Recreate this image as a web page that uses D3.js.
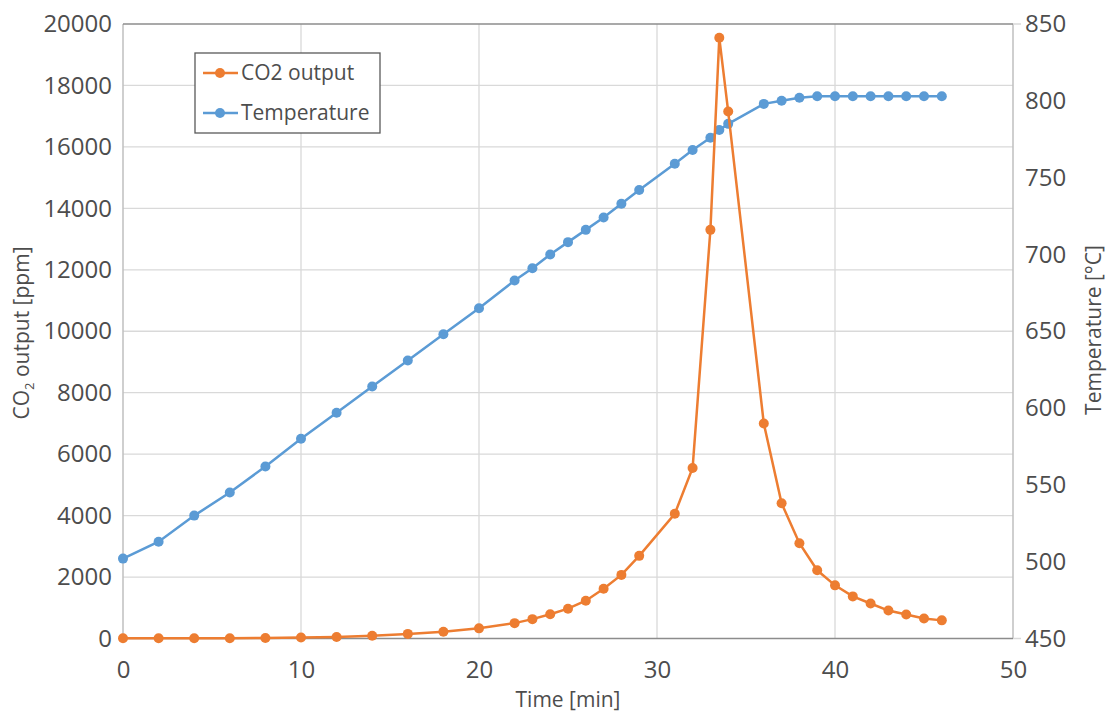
<!DOCTYPE html>
<html><head><meta charset="utf-8">
<script src="https://cdn.jsdelivr.net/npm/d3@7"></script>
<style>body{margin:0;background:#fff}svg text{font-family:"Open Sans",sans-serif;fill:#4d4d4d}</style>
</head><body>
<svg id="c" width="1107" height="714"></svg>
<script>
const co2Time = [0,2,4,6,8,10,12,14,16,18,20,22,23,24,25,26,27,28,29,31,32,33,33.5,34,36,37,38,39,40,41,42,43,44,45,46];
const co2Values = [10,10,10,10,15,30,50,90,150,220,330,500,630,790,970,1230,1620,2070,2690,4060,5550,13300,19550,17150,7000,4400,3100,2220,1730,1370,1140,910,780,650,590];
const tempTime = [0,2,4,6,8,10,12,14,16,18,20,22,23,24,25,26,27,28,29,31,32,33,33.5,34,36,37,38,39,40,41,42,43,44,45,46];
const tempValues = [502,513,530,545,562,580,597,614,631,648,665,683,691,700,708,716,724,733,742,759,768,776,781,785,798,800,802,803,803,803,803,803,803,803,803];
const xTicks = [0,10,20,30,40,50];
const yLeftTicks = [0,2000,4000,6000,8000,10000,12000,14000,16000,18000,20000];
const yRightTicks = [450,500,550,600,650,700,750,800,850];
const seriesNames = ["CO2 output","Temperature"];
const colors = ["#ED7D31","#5B9BD5"];

const svg = d3.select("#c");
const L=123,R=1013,T=24,B=638.5;
const x = d3.scaleLinear().domain([0,50]).range([L,R]);
const yL = d3.scaleLinear().domain([0,20000]).range([B,T]);
const yR = d3.scaleLinear().domain([450,850]).range([B,T]);

// gridlines
svg.append("g").selectAll("line").data(yLeftTicks.filter(d=>d>0&&d<20000)).join("line")
 .attr("x1",L).attr("x2",R).attr("y1",d=>yL(d)).attr("y2",d=>yL(d)).attr("stroke","#d9d9d9").attr("stroke-width",1.3);
svg.append("g").selectAll("line").data(xTicks.filter(d=>d>0&&d<50)).join("line")
 .attr("y1",T).attr("y2",B).attr("x1",d=>x(d)).attr("x2",d=>x(d)).attr("stroke","#d9d9d9").attr("stroke-width",1.3);

// axes lines
svg.append("line").attr("x1",L).attr("x2",L).attr("y1",T).attr("y2",B).attr("stroke","#bfbfbf").attr("stroke-width",1.5);
svg.append("line").attr("x1",R).attr("x2",R).attr("y1",T).attr("y2",B).attr("stroke","#bfbfbf").attr("stroke-width",1.5);
svg.append("line").attr("x1",L).attr("x2",R).attr("y1",T).attr("y2",T).attr("stroke","#8c8c8c").attr("stroke-width",1.5);
svg.append("line").attr("x1",R).attr("x2",R+8).attr("y1",T).attr("y2",T).attr("stroke","#d9d9d9").attr("stroke-width",1.5);
svg.append("line").attr("x1",L).attr("x2",R).attr("y1",B).attr("y2",B).attr("stroke","#8c8c8c").attr("stroke-width",1.5);
svg.append("line").attr("x1",R).attr("x2",R+8).attr("y1",B).attr("y2",B).attr("stroke","#d9d9d9").attr("stroke-width",1.5);

// tick labels via axes
const fs=24;
const ax = svg.append("g").attr("transform",`translate(0,${B})`).call(d3.axisBottom(x).tickValues(xTicks).tickSize(0).tickPadding(22));
const ayl = svg.append("g").attr("transform",`translate(${L},0)`).call(d3.axisLeft(yL).tickValues(yLeftTicks).tickFormat(d3.format("d")).tickSize(0).tickPadding(11));
const ayr = svg.append("g").attr("transform",`translate(${R},0)`).call(d3.axisRight(yR).tickValues(yRightTicks).tickSize(0).tickPadding(12));
[ax,ayl,ayr].forEach(g=>{g.select(".domain").remove();g.selectAll("text").attr("font-size",fs).attr("font-family","'Open Sans',sans-serif").attr("fill","#4d4d4d");});

// titles
svg.append("text").attr("x",568).attr("y",707).attr("text-anchor","middle").attr("font-size",21).text("Time [min]");
const yt = svg.append("text").attr("transform","translate(29,333) rotate(-90)").attr("text-anchor","middle").attr("font-size",21);
yt.append("tspan").text("CO");
yt.append("tspan").attr("font-size",13).attr("dy",5).text("2");
yt.append("tspan").attr("dy",-5).text(" output [ppm]");
svg.append("text").attr("transform","translate(1101,330) rotate(-90)").attr("text-anchor","middle").attr("font-size",21).text("Temperature [°C]");

// series
const co2 = co2Time.map((t,i)=>[t,co2Values[i]]);
const temp = tempTime.map((t,i)=>[t,tempValues[i]]);
const lineL = d3.line().x(d=>x(d[0])).y(d=>yL(d[1]));
const lineR = d3.line().x(d=>x(d[0])).y(d=>yR(d[1]));
svg.append("path").datum(temp).attr("d",lineR).attr("fill","none").attr("stroke",colors[1]).attr("stroke-width",2.5);
svg.append("g").selectAll("circle").data(temp).join("circle").attr("cx",d=>x(d[0])).attr("cy",d=>yR(d[1])).attr("r",5).attr("fill",colors[1]);
svg.append("path").datum(co2).attr("d",lineL).attr("fill","none").attr("stroke",colors[0]).attr("stroke-width",2.5);
svg.append("g").selectAll("circle").data(co2).join("circle").attr("cx",d=>x(d[0])).attr("cy",d=>yL(d[1])).attr("r",5).attr("fill",colors[0]);

// legend
const lg = svg.append("g");
lg.append("rect").attr("x",195).attr("y",53).attr("width",185).attr("height",80).attr("fill","#fff").attr("stroke","#595959").attr("stroke-width",1.3);
seriesNames.forEach((n,i)=>{
  const yy = 73+i*40;
  lg.append("line").attr("x1",203).attr("x2",238).attr("y1",yy).attr("y2",yy).attr("stroke",colors[i]).attr("stroke-width",2.5);
  lg.append("circle").attr("cx",220).attr("cy",yy).attr("r",5).attr("fill",colors[i]);
  lg.append("text").attr("x",241).attr("y",yy+7).attr("font-size",21).text(n);
});
</script>
</body></html>
